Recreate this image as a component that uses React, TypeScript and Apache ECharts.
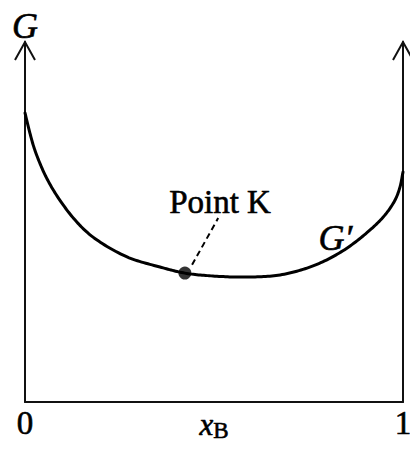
import React, { useEffect, useRef } from "react";
import * as echarts from "echarts";

// Free energy curve G' across composition x_B (0..1)
const curveX = [0, 0.013, 0.026, 0.053, 0.085, 0.132, 0.18, 0.27, 0.357, 0.423, 0.497, 0.587, 0.675, 0.762, 0.841, 0.913, 0.952, 0.979, 0.992, 1];
const curveG = [0.803, 0.747, 0.7, 0.631, 0.572, 0.506, 0.458, 0.403, 0.375, 0.358, 0.35, 0.347, 0.353, 0.378, 0.42, 0.478, 0.519, 0.561, 0.597, 0.639];

// Point K on the curve, its leader line and label anchor
const pointK: [number, number] = [0.423, 0.358];
const leaderX = [0.442, 0.511];
const leaderY = [0.381, 0.511];
const annotationText = ["Point K", "G\u2032"];
const annotationX = [0.516, 0.821];
const annotationY = [0.556, 0.456];
const annotationItalic = [false, true];

const xTicks = [0, 1];
const yRange = [0, 1];

const SERIF = "'Liberation Serif', 'Times New Roman', serif";
const INK = "#000";

// Centripetal Catmull-Rom through pixel points, returned as a dense polyline
function catmullRom(pts: number[][], steps = 16): number[][] {
  const out: number[][] = [];
  const n = pts.length;
  const get = (i: number) => {
    if (i < 0) return [2 * pts[0][0] - pts[1][0], 2 * pts[0][1] - pts[1][1]];
    if (i >= n) return [2 * pts[n - 1][0] - pts[n - 2][0], 2 * pts[n - 1][1] - pts[n - 2][1]];
    return pts[i];
  };
  const tj = (ti: number, a: number[], b: number[]) =>
    ti + Math.pow(Math.hypot(b[0] - a[0], b[1] - a[1]) || 1e-6, 0.5);
  for (let i = 0; i < n - 1; i++) {
    const p0 = get(i - 1), p1 = get(i), p2 = get(i + 1), p3 = get(i + 2);
    const t0 = 0, t1 = tj(t0, p0, p1), t2 = tj(t1, p1, p2), t3 = tj(t2, p2, p3);
    for (let s = 0; s < steps; s++) {
      const t = t1 + ((t2 - t1) * s) / steps;
      const lerp = (pa: number[], pb: number[], ta: number, tb: number) => [
        ((tb - t) / (tb - ta)) * pa[0] + ((t - ta) / (tb - ta)) * pb[0],
        ((tb - t) / (tb - ta)) * pa[1] + ((t - ta) / (tb - ta)) * pb[1],
      ];
      const a1 = lerp(p0, p1, t0, t1), a2 = lerp(p1, p2, t1, t2), a3 = lerp(p2, p3, t2, t3);
      const b1 = lerp(a1, a2, t0, t2), b2 = lerp(a2, a3, t1, t3);
      out.push(lerp(b1, b2, t1, t2));
    }
  }
  out.push(pts[n - 1]);
  return out;
}

export default function App() {
  const ref = useRef<HTMLDivElement>(null);

  useEffect(() => {
    if (!ref.current) return;
    const chart = echarts.init(ref.current, undefined, { renderer: "svg" });

    const textBorder = { textBorderColor: INK, textBorderWidth: 0.6 };

    const option: any = {
      animation: false,
      backgroundColor: "#fff",
      grid: { left: 25, right: 7, top: 42, bottom: 52, outerBoundsMode: "none", containLabel: false },
      xAxis: {
        type: "value",
        min: xTicks[0],
        max: xTicks[1],
        interval: 1,
        axisLine: { show: true, lineStyle: { color: "#111", width: 2 } },
        axisTick: { show: false },
        splitLine: { show: false },
        axisLabel: {
          show: true,
          margin: 4,
          fontFamily: SERIF,
          fontSize: 33,
          color: INK,
          ...textBorder,
          formatter: (v: number) => String(v),
        },
        name: "{x|x}{b|B}",
        nameLocation: "middle",
        nameGap: 22,
        nameMoveOverlap: false,
        nameTextStyle: {
          verticalAlign: "middle",
          rich: {
            x: { fontFamily: SERIF, fontStyle: "italic", fontSize: 31, color: INK, ...textBorder },
            b: { fontFamily: SERIF, fontSize: 23, color: INK, padding: [12, 0, 0, 0], ...textBorder },
          },
        },
      },
      yAxis: [
        {
          type: "value",
          min: yRange[0],
          max: yRange[1],
          position: "left",
          axisLine: { show: true, lineStyle: { color: "#111", width: 2 } },
          axisTick: { show: false },
          axisLabel: { show: false },
          splitLine: { show: false },
          name: "G",
          nameLocation: "end",
          nameGap: -2,
          nameMoveOverlap: false,
          nameTextStyle: {
            fontFamily: SERIF,
            fontStyle: "italic",
            fontSize: 36,
            color: INK,
            align: "center",
            ...textBorder,
          },
        },
        {
          type: "value",
          min: yRange[0],
          max: yRange[1],
          position: "right",
          axisLine: { show: true, onZero: false, lineStyle: { color: "#111", width: 2 } },
          axisTick: { show: false },
          axisLabel: { show: false },
          splitLine: { show: false },
        },
      ],
      series: [
        {
          // G' curve: data points mapped through the axes, joined by a smooth spline
          type: "custom",
          clip: false,
          data: [[curveX[0], curveG[0]]],
          renderItem: (params: any, api: any) => {
            const px = curveX.map((x, i) => api.coord([x, curveG[i]]));
            return {
              type: "polyline",
              shape: { points: catmullRom(px) },
              style: { stroke: "#000", lineWidth: 3, fill: "none", lineJoin: "round", lineCap: "round" },
            };
          },
          z: 3,
        },
        {
          type: "line",
          data: leaderX.map((x, i) => [x, leaderY[i]]),
          symbol: "none",
          lineStyle: { color: "#000", width: 2, type: [6, 4] },
          z: 3,
        },
        {
          type: "scatter",
          data: [pointK],
          symbol: "circle",
          symbolSize: 13,
          itemStyle: { color: "#000" },
          z: 4,
        },
        {
          // text annotations anchored at data coordinates
          type: "custom",
          clip: false,
          data: annotationX.map((x, i) => [x, annotationY[i], i]),
          renderItem: (params: any, api: any) => {
            const i = api.value(2);
            const p = api.coord([api.value(0), api.value(1)]);
            const italic = annotationItalic[i];
            return {
              type: "text",
              x: p[0],
              y: p[1],
              style: {
                text: annotationText[i],
                fontFamily: SERIF,
                fontSize: italic ? 36 : 33,
                fontStyle: italic ? "italic" : "normal",
                fill: INK,
                stroke: INK,
                lineWidth: 0.6,
                align: "center",
                verticalAlign: "middle",
              },
            };
          },
          z: 5,
        },
        {
          // open chevron arrowheads at the top of both vertical axes
          type: "custom",
          clip: false,
          data: [[0, 1], [1, 1]],
          renderItem: (params: any, api: any) => {
            const p = api.coord([api.value(0), api.value(1)]);
            return {
              type: "polyline",
              shape: { points: [[p[0] - 10, p[1] + 18], [p[0], p[1]], [p[0] + 10, p[1] + 18]] },
              style: { stroke: "#111", lineWidth: 2, fill: "none" },
            };
          },
          z: 6,
        },
      ],
    };

    chart.setOption(option);
    return () => chart.dispose();
  }, []);

  return (
    <div
      ref={ref}
      style={{ position: "fixed", left: 0, top: 0, width: 410, height: 454, background: "#fff" }}
    />
  );
}
